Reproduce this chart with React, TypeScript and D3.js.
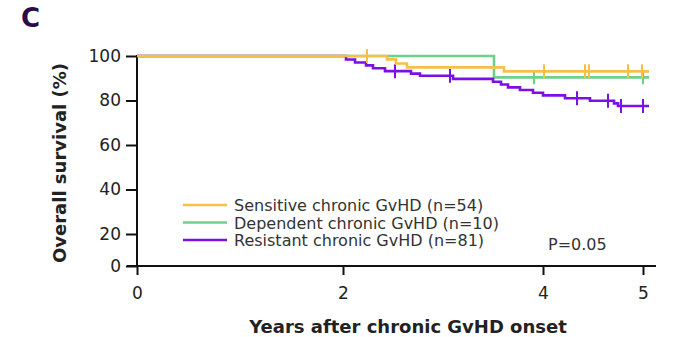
import React, { useRef, useEffect } from "react";
import * as d3 from "d3";

const WIDTH = 681;
const HEIGHT = 337;

// axis ticks
const xTicks = [0, 2, 4, 5];
const yTicks = [0, 20, 40, 60, 80, 100];

// Sensitive chronic GvHD (n=54)
const sensTimes = [0, 2.44, 2.53, 2.64, 3.61, 5.06];
const sensSurv = [100, 98.5, 96.6, 94.9, 93.1, 93.1];
const sensCensor = [2.24, 4.01, 4.42, 4.46, 4.85, 4.99];

// Dependent chronic GvHD (n=10)
const depTimes = [0, 3.51, 5.06];
const depSurv = [100, 90.4, 90.4];
const depCensor = [3.91, 5.0];

// Resistant chronic GvHD (n=81)
const resTimes = [0, 2.03, 2.12, 2.23, 2.3, 2.42, 2.68, 2.77, 3.1, 3.5, 3.58, 3.65, 3.77, 3.9, 4.0, 4.22, 4.47, 4.71, 4.75, 5.06];
const resSurv = [100, 98.4, 97.1, 95.8, 94.5, 93.2, 92.1, 91.1, 89.7, 88.4, 87.2, 85.9, 84.7, 83.5, 82.3, 81.0, 79.9, 78.7, 77.5, 77.5];
const resCensor = [2.52, 3.07, 4.34, 4.65, 4.78, 5.0];

const series = [
  { name: "Dependent chronic GvHD (n=10)", color: "#6dd08b", times: depTimes, surv: depSurv, censor: depCensor },
  { name: "Resistant chronic GvHD (n=81)", color: "#7a10e6", times: resTimes, surv: resSurv, censor: resCensor },
  { name: "Sensitive chronic GvHD (n=54)", color: "#f4c04a", times: sensTimes, surv: sensSurv, censor: sensCensor },
];
const legendOrder = [2, 0, 1];

const FONT = "DejaVu Sans, Verdana, sans-serif";

function App() {
  const svgRef = useRef(null);

  useEffect(() => {
    const svg = d3.select(svgRef.current);
    svg.selectAll("*").remove();

    // the 0 ticks sit a little off the regular spacing in the original
    const x = d3.scaleLinear().domain([0, 2, 5]).range([137, 343, 643]);
    const y = d3.scaleLinear().domain([0, 20, 100]).range([266, 234, 56]);

    // panel letter
    svg
      .append("text")
      .attr("x", 21)
      .attr("y", 27)
      .attr("font-family", FONT)
      .attr("font-weight", "bold")
      .attr("font-size", 26)
      .attr("fill", "#2a0b4c")
      .text("C");

    // y axis
    const yAxis = svg.append("g").attr("transform", `translate(${x(0)},0)`);
    yAxis
      .call(d3.axisLeft(y).tickValues(yTicks).tickSize(11).tickPadding(5).tickFormat(d3.format("d")))
      .call((g) => g.select(".domain").remove())
      .call((g) => g.selectAll("line").attr("stroke", "#111").attr("stroke-width", 2))
      .call((g) =>
        g
          .selectAll("text")
          .attr("font-family", FONT)
          .attr("font-size", 17)
          .attr("fill", "#222")
      );
    yAxis
      .append("line")
      .attr("y1", y(100) - 1)
      .attr("y2", y(0))
      .attr("stroke", "#111")
      .attr("stroke-width", 2);

    // x axis
    const xAxis = svg.append("g").attr("transform", `translate(0,${y(0)})`);
    xAxis
      .call(d3.axisBottom(x).tickValues(xTicks).tickSize(9).tickPadding(12).tickFormat(d3.format("d")))
      .call((g) => g.select(".domain").remove())
      .call((g) => g.selectAll("line").attr("stroke", "#111").attr("stroke-width", 2))
      .call((g) =>
        g
          .selectAll("text")
          .attr("font-family", FONT)
          .attr("font-size", 17)
          .attr("fill", "#222")
      );
    xAxis
      .append("line")
      .attr("x1", x(0) - 10)
      .attr("x2", 656)
      .attr("stroke", "#111")
      .attr("stroke-width", 2);

    // axis titles
    svg
      .append("text")
      .attr("transform", `translate(66,${(y(0) + y(100)) / 2 + 2}) rotate(-90)`)
      .attr("text-anchor", "middle")
      .attr("font-family", FONT)
      .attr("font-weight", "bold")
      .attr("font-size", 18)
      .attr("fill", "#222")
      .text("Overall survival (%)");

    svg
      .append("text")
      .attr("x", 408)
      .attr("y", 333)
      .attr("text-anchor", "middle")
      .attr("font-family", FONT)
      .attr("font-weight", "bold")
      .attr("font-size", 18)
      .attr("fill", "#222")
      .text("Years after chronic GvHD onset");

    // survival curves
    const line = d3
      .line()
      .x((d) => x(d[0]))
      .y((d) => y(d[1]))
      .curve(d3.curveStepAfter);

    const plot = svg.append("g");
    series.forEach((s) => {
      const pts = s.times.map((t, i) => [t, s.surv[i]]);
      plot
        .append("path")
        .attr("d", line(pts))
        .attr("fill", "none")
        .attr("stroke", s.color)
        .attr("stroke-width", 2.6);

      const levelAt = (t) => {
        const i = d3.bisectRight(s.times, t) - 1;
        return s.surv[Math.max(0, i)];
      };
      plot
        .selectAll(null)
        .data(s.censor)
        .join("line")
        .attr("x1", (d) => x(d))
        .attr("x2", (d) => x(d))
        .attr("y1", (d) => y(levelAt(d)) - 7)
        .attr("y2", (d) => y(levelAt(d)) + 7)
        .attr("stroke", s.color)
        .attr("stroke-width", 2);
    });

    // legend
    const legend = svg.append("g").attr("transform", "translate(183,205)");
    legendOrder.forEach((idx, row) => {
      const s = series[idx];
      const g = legend.append("g").attr("transform", `translate(0,${row * 17.5})`);
      g.append("line")
        .attr("x1", 0)
        .attr("x2", 44)
        .attr("stroke", s.color)
        .attr("stroke-width", 2.6);
      g.append("text")
        .attr("x", 51)
        .attr("y", 6)
        .attr("font-family", FONT)
        .attr("font-size", 16)
        .attr("fill", "#333")
        .text(s.name);
    });

    svg
      .append("text")
      .attr("x", 548)
      .attr("y", 250)
      .attr("font-family", FONT)
      .attr("font-size", 16)
      .attr("fill", "#333")
      .text("P=0.05");
  }, []);

  return (
    <svg
      ref={svgRef}
      width={WIDTH}
      height={HEIGHT}
      style={{ position: "absolute", left: 0, top: 0, background: "#fff" }}
    ></svg>
  );
}

export default App;
